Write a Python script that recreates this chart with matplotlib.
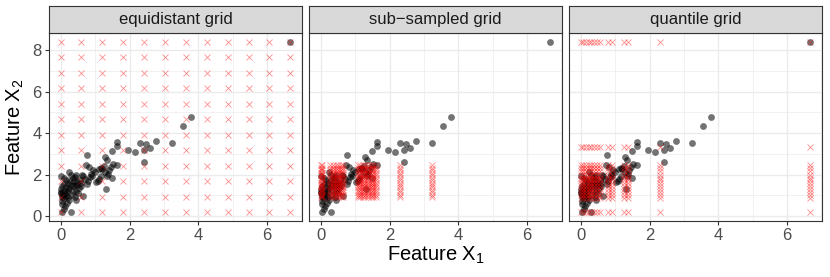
import matplotlib.pyplot as plt
import numpy as np

plt.rcParams['font.family'] = ['Liberation Sans', 'DejaVu Sans']

# observed data (Feature X1, Feature X2)
x1 = [6.68, 3.78, 3.56, 2.78, 3.24, 2.31, 2.47, 2.59, 2.43, 2.15, 1.97, 2.41,
      1.65, 1.65, 1.50, 0.76, 1.29, 1.34, 1.63, 1.51, 1.17, 1.08, 1.31, 0.74,
      0.30, 0.05,
      1.30, 1.40, 1.45, 1.25, 1.38, 1.50, 1.35, 1.20, 1.10, 1.00, 0.95, 0.88,
      0.85, 0.92, 0.80, 0.75, 0.70, 0.65, 0.60, 0.58, 0.81, 0.62, 0.55, 0.48,
      0.45, 0.40, 0.52, 0.64, 0.45, 1.02, 1.18, 1.12,
      0.02, 0.23, 0.30, 0.35, 0.28, 0.20, 0.15, 0.10, 0.05, 0.00, 0.08, 0.02,
      0.12, 0.05, 0.15, 0.20, 0.10, 0.03, 0.18, 0.25, 0.35, 0.38, 0.42, 0.45,
      0.30, 0.22, 0.05, 0.12, 0.08, 0.18, 0.25, 0.32, 0.40, 0.03, 0.00, 0.14,
      0.48, 0.36, 0.10, 0.50]
x2 = [8.38, 4.77, 4.32, 3.62, 3.54, 3.50, 3.47, 3.28, 3.17, 3.09, 3.20, 2.62,
      3.55, 3.38, 3.12, 2.93, 2.85, 2.72, 2.48, 2.53, 2.32, 1.68, 1.31, 2.45,
      0.19, 0.21,
      2.13, 2.20, 2.35, 2.40, 2.05, 1.86, 1.95, 2.25, 2.25, 2.15, 2.20, 2.05,
      1.90, 1.95, 1.70, 1.55, 1.80, 1.92, 1.60, 1.45, 2.35, 2.00, 1.75, 1.65,
      1.20, 1.50, 1.35, 0.99, 0.77, 1.65, 1.95, 1.80,
      1.92, 2.11, 2.00, 1.85, 1.70, 1.60, 1.75, 1.55, 1.45, 1.30, 1.20, 1.10,
      1.05, 1.00, 0.95, 0.90, 0.85, 0.75, 1.15, 1.35, 1.45, 1.70, 1.90, 2.00,
      1.50, 1.25, 0.60, 0.48, 0.35, 0.65, 0.80, 1.00, 0.90, 0.90, 1.15, 1.38,
      1.50, 1.22, 1.85, 1.10]

panel_titles = ['equidistant grid', 'sub\u2212sampled grid', 'quantile grid']

# grid values used in each panel
equi_x = [0.0, 0.6, 1.21, 1.82, 2.43, 3.04, 3.64, 4.25, 4.86, 5.47, 6.07, 6.68]
equi_y = [0.19, 0.94, 1.68, 2.43, 3.18, 3.92, 4.67, 5.41, 6.16, 6.91, 7.65, 8.4]
sub_x = [0.0, 0.05, 0.27, 0.35, 0.43, 0.5, 0.58, 0.65, 1.08, 1.15, 1.22, 1.3,
         1.37, 1.45, 1.52, 1.6, 2.31, 3.24]
sub_y = [0.9, 1.02, 1.14, 1.26, 1.38, 1.5, 1.62, 1.74, 1.86, 1.98, 2.1, 2.22,
         2.34, 2.46]
quant_x = [0.0, 0.07, 0.15, 0.23, 0.31, 0.39, 0.47, 0.55, 0.78, 0.9, 1.27, 1.38,
           2.31, 6.68]
quant_y = [0.19, 0.88, 1.02, 1.16, 1.3, 1.44, 1.58, 1.72, 1.86, 2.0, 2.16, 2.32,
           2.48, 3.31, 8.38]

grids = [(equi_x, equi_y), (sub_x, sub_y), (quant_x, quant_y)]

W, H = 830, 277
fig = plt.figure(figsize=(W / 100, H / 100), dpi=100)


def box(l, t, r, b):
    return [l / W, 1 - b / H, (r - l) / W, (b - t) / H]


lefts = [49.3, 309.3, 569.3]
pw = 252.5
dark = '#333333'

for i, (l, title, (gx, gy)) in enumerate(zip(lefts, panel_titles, grids)):
    ax = fig.add_axes(box(l, 33.3, l + pw, 220.7))
    ax.set_xlim(-0.334, 7.014)
    ax.set_ylim(-0.22, 8.81)
    ax.set_xticks([0, 2, 4, 6])
    ax.set_xticks([1, 3, 5, 7], minor=True)
    ax.set_yticks([0, 2, 4, 6, 8])
    ax.set_yticks([1, 3, 5, 7], minor=True)
    ax.grid(which='major', color='#EBEBEB', lw=1.0)
    ax.grid(which='minor', color='#EBEBEB', lw=0.5)
    ax.set_axisbelow(True)
    ax.tick_params(which='minor', length=0)
    ax.tick_params(which='major', length=2.9, width=0.8, color=dark,
                   labelcolor='#4D4D4D', labelsize=12, pad=2.5)
    if i > 0:
        ax.tick_params(axis='y', left=False, labelleft=False)
    for s in ax.spines.values():
        s.set_color(dark)
        s.set_linewidth(0.8)

    ax.scatter(x1, x2, s=24, color='black', alpha=0.55, linewidths=0, zorder=3)
    mx, my = np.meshgrid(gx, gy)
    ax.plot(mx.ravel(), my.ravel(), 'x', color='red', alpha=0.45, ms=4.2,
            mew=0.6, ls='none', zorder=4)

    st = fig.add_axes(box(l, 6, l + pw, 33.3))
    st.set_facecolor('#D9D9D9')
    st.set_xticks([])
    st.set_yticks([])
    for s in st.spines.values():
        s.set_color(dark)
        s.set_linewidth(0.8)
    st.text(0.5, 0.5, title, ha='center', va='center', fontsize=12,
            color='#1A1A1A', transform=st.transAxes)

fig.text(15 / W, 1 - 127 / H, 'Feature $\\mathregular{X_2}$', rotation=90,
         ha='center', va='center', fontsize=14.5)
fig.text(435.5 / W, 1 - 255 / H, 'Feature $\\mathregular{X_1}$',
         ha='center', va='center', fontsize=14.5)

fig.savefig('out.png', dpi=100)
